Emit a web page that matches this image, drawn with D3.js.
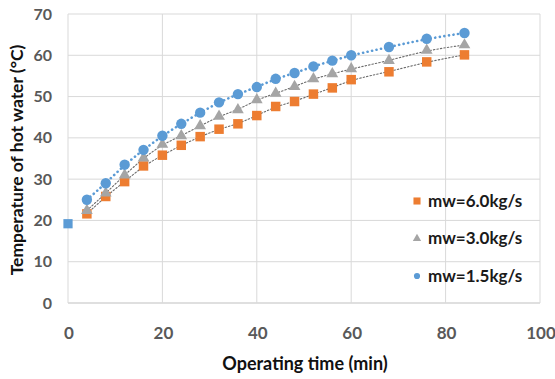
<!DOCTYPE html>
<html>
<head>
<meta charset="utf-8">
<script src="https://cdn.jsdelivr.net/npm/d3@7"></script>
<style>
  body { margin: 0; background: #fff; }
  svg { display: block; font-family: Lato, "Open Sans", sans-serif; }
</style>
</head>
<body>
<svg width="555" height="379"></svg>
<script>
// time points (min)
const times = [4, 8, 12, 16, 20, 24, 28, 32, 36, 40, 44, 48, 52, 56, 60, 68, 76, 84]
// start point shared by all runs
const startPoint = {t: 0, v: 19.2}
// hot water temperature per flow rate
const mw60 = [21.6, 25.8, 29.4, 33.2, 35.8, 38.2, 40.3, 42.1, 43.4, 45.4, 47.6, 48.8, 50.6, 52.1, 54.1, 56.0, 58.4, 60.1]
const mw30 = [22.4, 26.6, 31.0, 35.1, 38.4, 40.5, 42.9, 45.2, 46.8, 49.2, 50.8, 52.4, 54.3, 55.5, 56.7, 58.7, 61.2, 62.5]
const mw15 = [25.0, 29.0, 33.5, 37.1, 40.5, 43.4, 46.1, 48.6, 50.6, 52.3, 54.3, 55.7, 57.3, 58.7, 60.0, 62.0, 64.0, 65.4]
const xTicks = [0, 20, 40, 60, 80, 100]
const yTicks = [0, 10, 20, 30, 40, 50, 60, 70]

const series = [
  {name: "mw=6.0kg/s", values: mw60, color: "#ed7d31", shape: d3.symbolSquare, line: "#6b6b6b", lw: 1.1, dash: "1.5,2"},
  {name: "mw=3.0kg/s", values: mw30, color: "#a5a5a5", shape: d3.symbolTriangle, line: "#6b6b6b", lw: 1.1, dash: "1.5,2"},
  {name: "mw=1.5kg/s", values: mw15, color: "#5b9bd5", shape: d3.symbolCircle, line: "#5b9bd5", lw: 2.6, dash: "0.1,4.5"}
]

var svg = d3.select("svg")
var x = d3.scaleLinear().domain([0, 100]).range([68, 540])
var y = d3.scaleLinear().domain([0, 70]).range([303, 14])

// grid
svg.append("g").selectAll("line.h").data(yTicks).enter().append("line")
  .attr("x1", x(0)).attr("x2", x(100))
  .attr("y1", d => y(d)).attr("y2", d => y(d))
  .attr("stroke", d => d === 0 ? "#bfbfbf" : "#d9d9d9").attr("stroke-width", 1)
svg.append("g").selectAll("line.v").data(xTicks).enter().append("line")
  .attr("x1", d => x(d)).attr("x2", d => x(d))
  .attr("y1", y(0)).attr("y2", y(70))
  .attr("stroke", "#d9d9d9").attr("stroke-width", 1)

// tick labels
svg.append("g").selectAll("text").data(yTicks).enter().append("text")
  .attr("x", 52).attr("y", d => y(d) + 5.5)
  .attr("text-anchor", "end").attr("font-size", 16).attr("font-weight", "bold")
  .attr("fill", "#595959").text(d => d)
svg.append("g").selectAll("text").data(xTicks).enter().append("text")
  .attr("x", d => x(d) + 1).attr("y", 339)
  .attr("text-anchor", "middle").attr("font-size", 17).attr("font-weight", "bold")
  .attr("fill", "#595959").text(d => d)

// axis titles
svg.append("text").attr("x", 305).attr("y", 370)
  .attr("text-anchor", "middle").attr("font-size", 18).attr("font-weight", "bold")
  .attr("fill", "#111").text("Operating time (min)")
svg.append("text").attr("transform", "translate(23,160) rotate(-90)")
  .attr("text-anchor", "middle").attr("font-size", 17.5).attr("font-weight", "bold")
  .attr("fill", "#111").text("Temperature of hot water (°C)")

// dotted trend lines
var line = d3.line().x(d => x(d[0])).y(d => y(d[1])).curve(d3.curveBasis)
series.forEach(s => {
  svg.append("path")
    .datum(times.map((t, i) => [t, s.values[i]]))
    .attr("d", line).attr("fill", "none")
    .attr("stroke", s.line).attr("stroke-width", s.lw)
    .attr("stroke-dasharray", s.dash).attr("stroke-linecap", "round")
})

// markers
series.forEach(s => {
  var size = s.shape === d3.symbolTriangle ? 60 : (s.shape === d3.symbolCircle ? 85 : 90)
  svg.append("g").selectAll("path").data(times.map((t, i) => [t, s.values[i]])).enter()
    .append("path")
    .attr("d", d3.symbol().type(s.shape).size(size))
    .attr("transform", d => "translate(" + x(d[0]) + "," + y(d[1]) + ")")
    .attr("fill", s.color)
})
// start point
svg.append("path")
  .attr("d", d3.symbol().type(d3.symbolSquare).size(85))
  .attr("transform", "translate(" + x(startPoint.t) + "," + y(startPoint.v) + ")")
  .attr("fill", "#5b9bd5")

// legend
var legend = svg.append("g")
series.forEach((s, i) => {
  var ly = 201 + i * 37.5
  var sz = s.shape === d3.symbolSquare ? 50 : 30
  legend.append("path")
    .attr("d", d3.symbol().type(s.shape).size(sz))
    .attr("transform", "translate(417," + ly + ")")
    .attr("fill", s.color)
  legend.append("text").attr("x", 428).attr("y", ly + 5.8)
    .attr("font-size", 17).attr("font-weight", "bold").attr("fill", "#1a1a1a")
    .text(s.name)
})
</script>
</body>
</html>
